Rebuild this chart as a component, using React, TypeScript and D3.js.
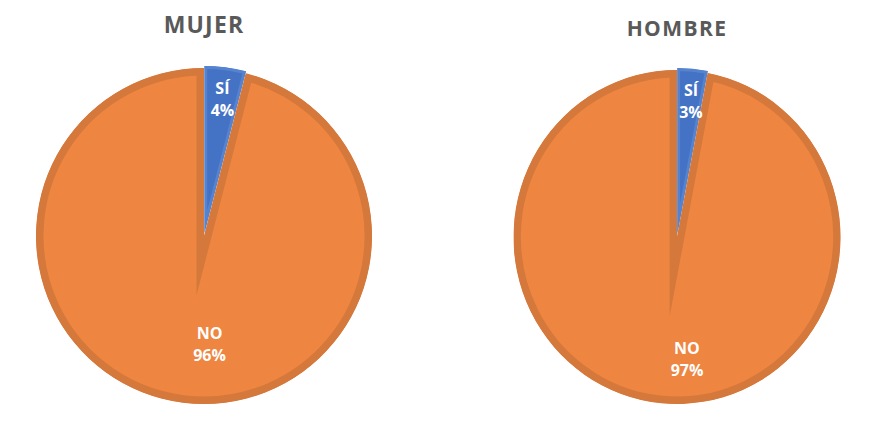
import React from "react";
import * as d3 from "d3";

const categories = ["SÍ", "NO"];
const chartTitles = ["MUJER", "HOMBRE"];
const mujerValues = [4, 96];
const hombreValues = [3, 97];
const seriesValues = [mujerValues, hombreValues];

const fillColors = ["#4472C4", "#EE8540"];
const strokeColors = ["#5583CF", "#D5783B"];
const insetWidths = [3, 7.5];

type Layout = {
  cx: number; cy: number; r: number; sx: number;
  titleY: number; titleSize: number; titleSpacing: number;
  labelNudge: [number, number][];
};

const layouts: Layout[] = [
  { cx: 204, cy: 236, r: 168, sx: 1, titleY: 33, titleSize: 23, titleSpacing: 1.2,
    labelNudge: [[2, -8], [22, -23]] },
  { cx: 677, cy: 237, r: 167, sx: 163.5 / 167, titleY: 36, titleSize: 21, titleSpacing: 1.4,
    labelNudge: [[2, -7], [22, -9]] },
];

function Pie({ idx }: { idx: number }) {
  const L = layouts[idx];
  const values = seriesValues[idx];
  const pie = d3.pie<number>().sort(null).value((d) => d);
  const arcs = pie(values);
  const arc = d3.arc<d3.PieArcDatum<number>>().innerRadius(0).outerRadius(L.r);
  const labelArc = d3.arc<d3.PieArcDatum<number>>().innerRadius(L.r * 0.78).outerRadius(L.r * 0.78);
  const explode = [2, 0];
  return (
    <g>
      <text x={L.cx} y={L.titleY} textAnchor="middle" fontFamily="'Open Sans', sans-serif"
        fontWeight="bold" fontSize={L.titleSize} letterSpacing={L.titleSpacing} fill="#595959">
        {chartTitles[idx]}
      </text>
      <g transform={`translate(${L.cx},${L.cy}) scale(${L.sx},1)`}>
        {arcs.map((a, i) => {
          const mid = (a.startAngle + a.endAngle) / 2;
          const dx = Math.sin(mid) * explode[i];
          const dy = -Math.cos(mid) * explode[i];
          const d = arc(a) || "";
          const id = `clip-${idx}-${i}`;
          return (
            <g key={i} transform={`translate(${dx},${dy})`}>
              <clipPath id={id}><path d={d} /></clipPath>
              <path d={d} fill={fillColors[i]} stroke={strokeColors[i]}
                strokeWidth={insetWidths[i] * 2} strokeLinejoin="miter" strokeMiterlimit={30}
                clipPath={`url(#${id})`} />
            </g>
          );
        })}
      </g>
      {arcs.map((a, i) => {
        const [lx, ly] = labelArc.centroid(a);
        const x = L.cx + lx * L.sx + L.labelNudge[i][0];
        const y = L.cy + ly + L.labelNudge[i][1];
        const pct = Math.round((a.data / d3.sum(values)) * 100);
        return (
          <text key={"l" + i} x={x} textAnchor="middle" fontFamily="'Open Sans', sans-serif"
            fontWeight="bold" fontSize={16} fill="#FFFFFF">
            <tspan x={x} y={y - 4}>{categories[i]}</tspan>
            <tspan x={x} y={y + 18}>{pct}%</tspan>
          </text>
        );
      })}
    </g>
  );
}

export default function App() {
  return (
    <svg width={872} height={421} style={{ position: "absolute", left: 0, top: 0, background: "#fff" }}>
      <rect width={872} height={421} fill="#fff" />
      <Pie idx={0} />
      <Pie idx={1} />
    </svg>
  );
}
